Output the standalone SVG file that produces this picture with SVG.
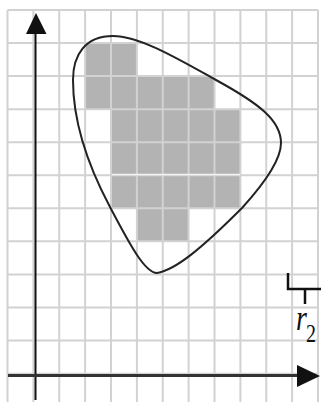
<svg xmlns="http://www.w3.org/2000/svg" width="321" height="402" viewBox="0 0 321 402">
<style>
.cell{fill:#b3b3b3}
.grid line{stroke:#d2d2d2;stroke-width:2}
.curve{fill:none;stroke:#222;stroke-width:2}
.axis{stroke:#111;stroke-width:2}
.lbl{font-family:"Liberation Serif",serif;fill:#111}
</style>
<rect width="321" height="402" fill="#fff"/>
<g id="cells">
<rect class="cell" x="85.1" y="43" width="51.8" height="33.1"/>
<rect class="cell" x="85.1" y="76.1" width="129.4" height="33.1"/>
<rect class="cell" x="111" y="109.2" width="129.4" height="99"/>
<rect class="cell" x="136.9" y="208" width="51.7" height="33.1"/>
</g>
<g id="grid" class="grid">
<line x1="7.5" y1="10" x2="7.5" y2="402"/>
<line x1="33.4" y1="10" x2="33.4" y2="402"/>
<line x1="59.25" y1="10" x2="59.25" y2="402"/>
<line x1="85.1" y1="10" x2="85.1" y2="402"/>
<line x1="111" y1="10" x2="111" y2="402"/>
<line x1="136.9" y1="10" x2="136.9" y2="402"/>
<line x1="162.75" y1="10" x2="162.75" y2="402"/>
<line x1="188.6" y1="10" x2="188.6" y2="402"/>
<line x1="214.5" y1="10" x2="214.5" y2="402"/>
<line x1="240.4" y1="10" x2="240.4" y2="402"/>
<line x1="266.25" y1="10" x2="266.25" y2="402"/>
<line x1="292.1" y1="10" x2="292.1" y2="402"/>
<line x1="318" y1="10" x2="318" y2="402"/>
<line x1="7.5" y1="10" x2="318" y2="10"/>
<line x1="7.5" y1="43" x2="318" y2="43"/>
<line x1="7.5" y1="76.1" x2="318" y2="76.1"/>
<line x1="7.5" y1="109.2" x2="318" y2="109.2"/>
<line x1="7.5" y1="142.3" x2="318" y2="142.3"/>
<line x1="7.5" y1="175.2" x2="318" y2="175.2"/>
<line x1="7.5" y1="208.2" x2="318" y2="208.2"/>
<line x1="7.5" y1="241.3" x2="318" y2="241.3"/>
<line x1="7.5" y1="274.4" x2="318" y2="274.4"/>
<line x1="7.5" y1="307.5" x2="318" y2="307.5"/>
<line x1="7.5" y1="340.6" x2="318" y2="340.6"/>
<line x1="7.5" y1="373.7" x2="318" y2="373.7"/>
<line x1="112" y1="174.6" x2="240" y2="174.6" style="stroke:#f2f2f2;stroke-width:1.5"/>
</g>
<g id="curve">
<path class="curve" d="M157,273 C175,270 200,250 242,208 C262,186 281,160 281,143 C281,120 258,103 216,80 C180,60 140,36 113,36 C85,36 73,55 73,80 C73,120 85,160 110,207 C130,245 145,273 157,273 Z"/>
</g>
<g id="axes">
<line x1="35.5" y1="400" x2="35.5" y2="30" class="axis"/>
<polygon points="36,13 26,34 46.5,34" fill="#111"/>
<line x1="8" y1="375.5" x2="300" y2="375.5" stroke="#333" stroke-width="3"/>
<polygon points="320,376 297,365 297,387" fill="#111"/>
</g>
<g id="r2">
<path d="M288,273 V289 H322 M305,289 V304" fill="none" stroke="#111" stroke-width="2.5"/>
<text class="lbl" transform="translate(296,330) scale(1,1.25)" font-size="28" font-style="italic">r</text>
<text class="lbl" transform="translate(306,342) scale(1,1.25)" font-size="20">2</text>
</g>
</svg>
